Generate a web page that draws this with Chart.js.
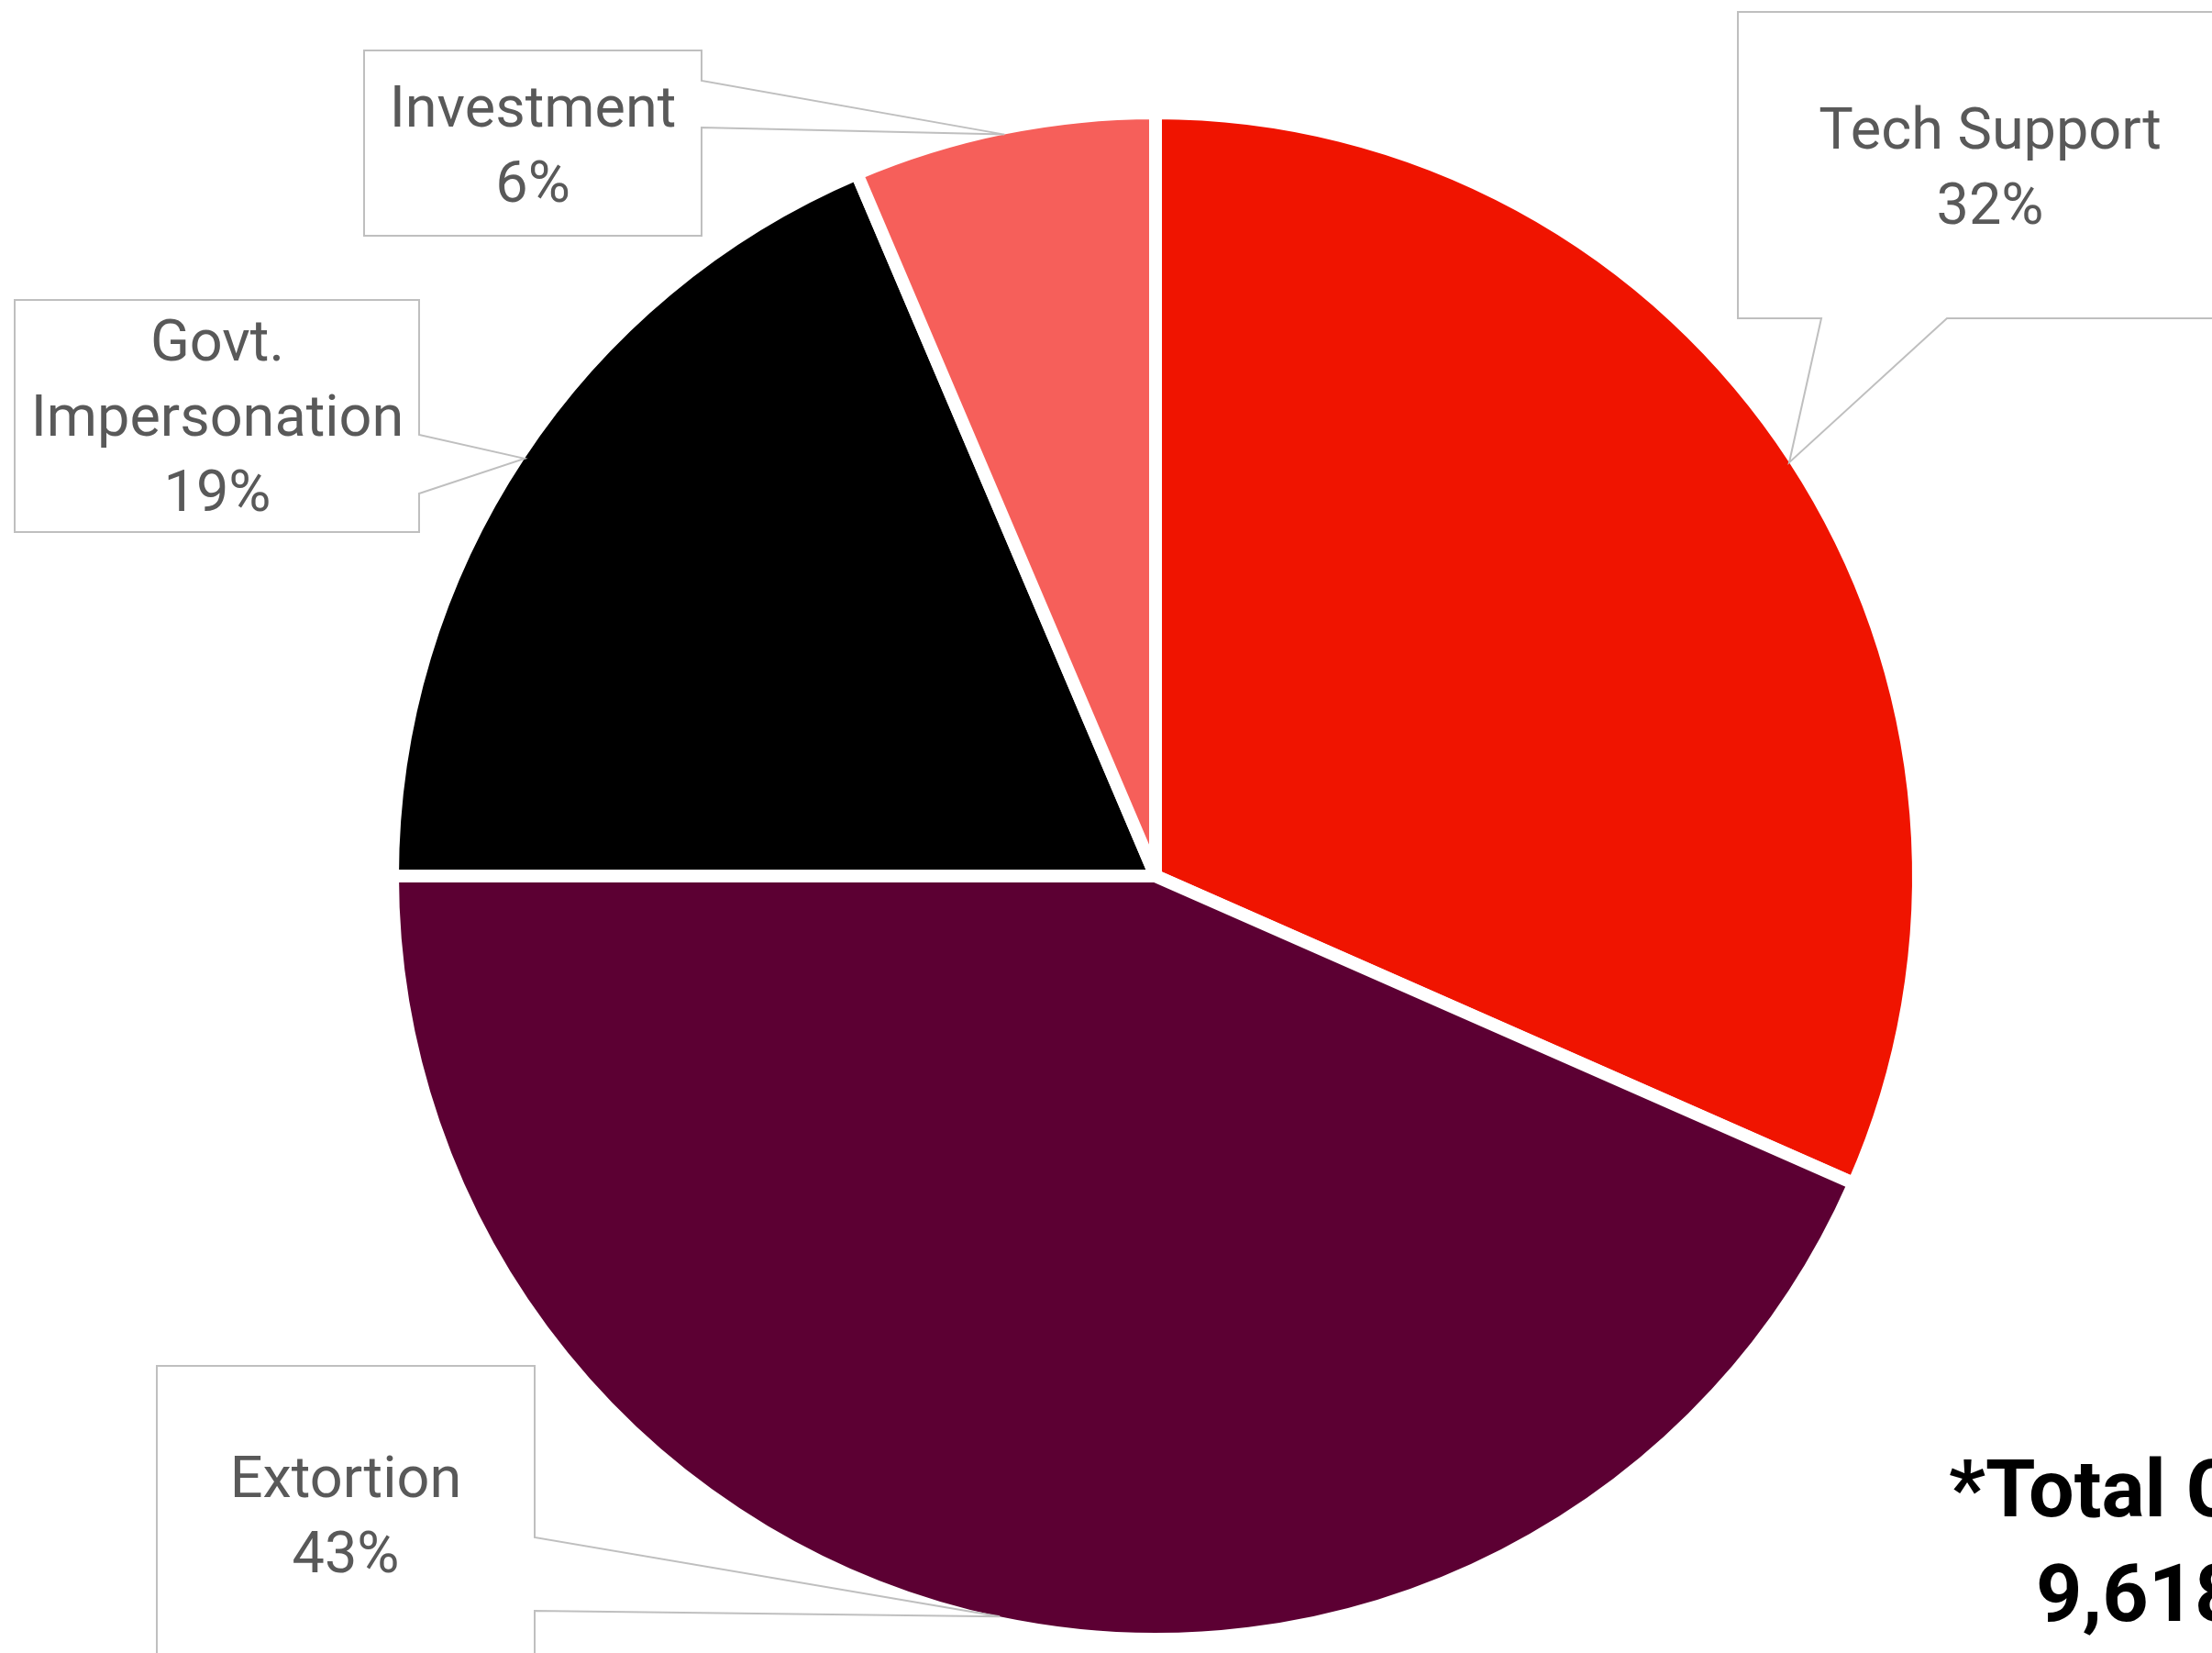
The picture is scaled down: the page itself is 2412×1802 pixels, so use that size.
<!DOCTYPE html>
<html>
<head>
<meta charset="utf-8">
<script src="https://cdn.jsdelivr.net/npm/chart.js@4.4.1/dist/chart.umd.min.js"></script>
<style>
  html, body { margin: 0; padding: 0; background: #fff; }
  #wrap { width: 2412px; height: 1802px; position: relative; }
</style>
</head>
<body>
<div id="wrap"><canvas id="pie"></canvas></div>
<script>
const categories = ['Tech Support', 'Extortion', 'Govt. Impersonation', 'Investment'];
const shares = [31.6, 43.4, 18.6, 6.4];
const colors = ['#F01400', '#5C0033', '#000000', '#F65F5A'];
const labelLines = [['Tech Support'], ['Extortion'], ['Govt.', 'Impersonation'], ['Investment']];
const totalLines = ['*Total Complaints', '9,618'];

// callout boxes: [left, top, right, bottom], side the pointer leaves from, pointer base
const callouts = [
  { box: [1895, 13, 2445, 347], side: 'bottom', base: [1986, 2123], textX: 2170, baseline: 162 },
  { box: [171, 1489, 583, 1900], side: 'right', base: [1676, 1756], textX: 377, baseline: 1632 },
  { box: [16, 327, 457, 580], side: 'right', base: [474, 538], textX: 237, baseline: 393 },
  { box: [397, 55, 765, 257], side: 'right', base: [88, 139], textX: 581, baseline: 138 }
];

const BORDER = 14;

const calloutPlugin = {
  id: 'callouts',
  afterDraw(chart) {
    const ctx = chart.ctx;
    const arcs = chart.getDatasetMeta(0).data;
    ctx.save();
    arcs.forEach((arc, i) => {
      const p = arc.getProps(['x', 'y', 'startAngle', 'endAngle', 'outerRadius'], true);
      const mid = (p.startAngle + p.endAngle) / 2;
      const r = p.outerRadius - BORDER / 2;
      const tx = p.x + Math.cos(mid) * r;
      const ty = p.y + Math.sin(mid) * r;
      const c = callouts[i];
      const [l, t, rr, b] = c.box;
      ctx.beginPath();
      if (c.side === 'right') {
        ctx.moveTo(l, t); ctx.lineTo(rr, t); ctx.lineTo(rr, c.base[0]);
        ctx.lineTo(tx, ty); ctx.lineTo(rr, c.base[1]); ctx.lineTo(rr, b); ctx.lineTo(l, b);
      } else {
        ctx.moveTo(l, t); ctx.lineTo(rr, t); ctx.lineTo(rr, b); ctx.lineTo(c.base[1], b);
        ctx.lineTo(tx, ty); ctx.lineTo(c.base[0], b); ctx.lineTo(l, b);
      }
      ctx.closePath();
      ctx.fillStyle = '#ffffff';
      ctx.fill();
      ctx.strokeStyle = '#BFBFBF';
      ctx.lineWidth = 2;
      ctx.stroke();

      const lines = labelLines[i].concat([Math.round(shares[i]) + '%']);
      ctx.fillStyle = '#595959';
      ctx.font = '63px Roboto';
      ctx.textAlign = 'center';
      ctx.textBaseline = 'alphabetic';
      lines.forEach((s, k) => ctx.fillText(s, c.textX, c.baseline + k * 82));
    });

    ctx.fillStyle = '#000000';
    ctx.font = 'bold 88px Roboto';
    ctx.textAlign = 'left';
    ctx.fillText(totalLines[0], 2125, 1653);
    ctx.fillText(totalLines[1], 2220, 1767);
    ctx.restore();
  }
};

new Chart(document.getElementById('pie'), {
  type: 'pie',
  data: {
    labels: categories,
    datasets: [{
      data: shares,
      backgroundColor: colors,
      borderColor: '#ffffff',
      borderWidth: BORDER
    }]
  },
  options: {
    responsive: true,
    maintainAspectRatio: false,
    animation: false,
    radius: 832,
    layout: { padding: { left: 413, right: 305, top: 108, bottom: 0 } },
    plugins: {
      legend: { display: false },
      tooltip: { enabled: false }
    }
  },
  plugins: [calloutPlugin]
});
</script>
</body>
</html>
